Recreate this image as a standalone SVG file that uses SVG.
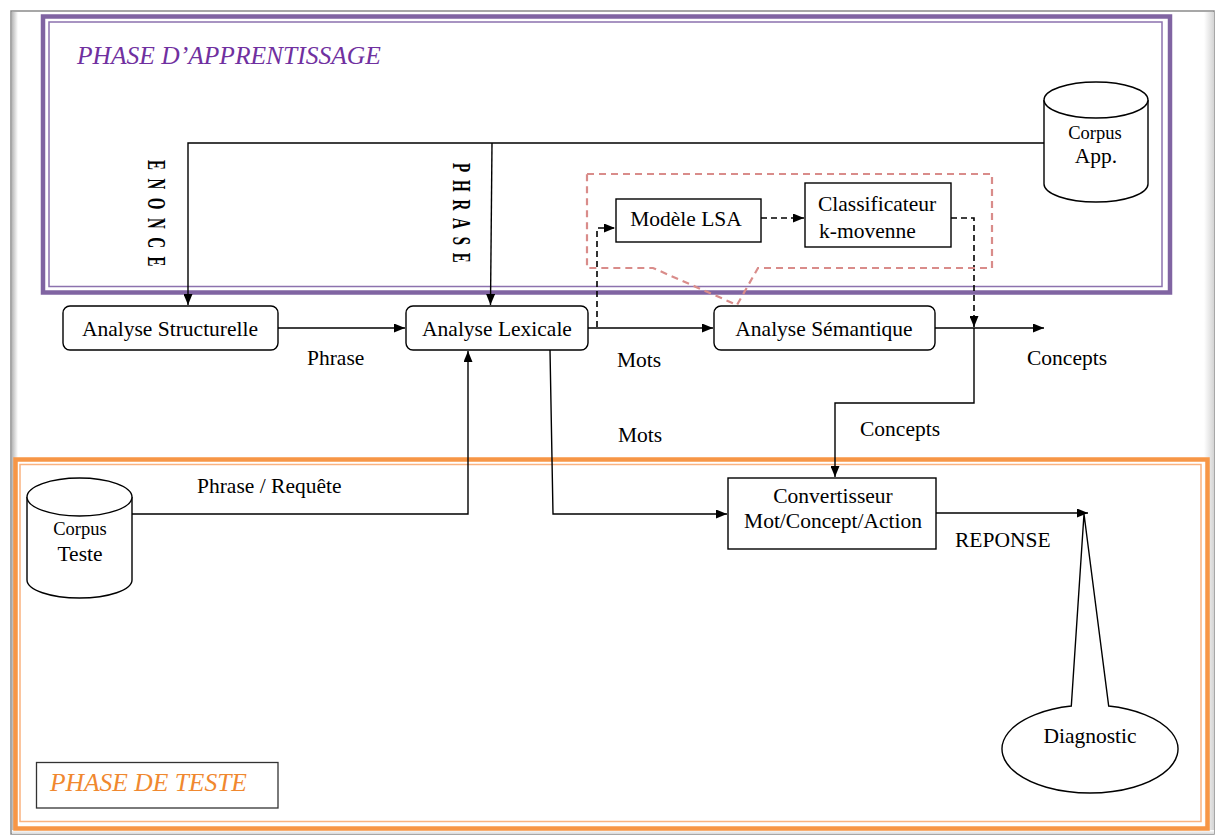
<svg xmlns="http://www.w3.org/2000/svg" width="1217" height="837" viewBox="0 0 1217 837">
  <defs>
    <marker id="arrow" markerUnits="userSpaceOnUse" markerWidth="11" markerHeight="9" refX="11" refY="4.5" orient="auto">
      <path d="M0,0 L11,4.5 L0,9 z" fill="#000"/>
    </marker>
    <linearGradient id="shadeR" x1="0" y1="0" x2="1" y2="0">
      <stop offset="0" stop-color="#ffffff"/>
      <stop offset="1" stop-color="#d4d4d4"/>
    </linearGradient>
    <linearGradient id="shadeL" x1="0" y1="0" x2="1" y2="0">
      <stop offset="0" stop-color="#b8b8b8"/>
      <stop offset="1" stop-color="#ffffff"/>
    </linearGradient>
    <linearGradient id="shadeB" x1="0" y1="0" x2="0" y2="1">
      <stop offset="0" stop-color="#ffffff"/>
      <stop offset="1" stop-color="#d8d8d8"/>
    </linearGradient>
  </defs>
  <style>
    text { font-family: "Liberation Serif", "Times New Roman", serif; fill: #000; }
    .lbl { font-size: 21.5px; }
    .mid { text-anchor: middle; }
    .small { font-size: 18.5px; }
    .vert { font-size: 15px; font-weight: bold; }
    .box { fill: #fff; stroke: #000; stroke-width: 1.4; }
    .line { fill: none; stroke: #000; stroke-width: 1.4; }
    .dash { fill: none; stroke: #000; stroke-width: 1.6; stroke-dasharray: 6 4; }
    .callout { fill: none; stroke: #d98c8a; stroke-width: 2.2; stroke-dasharray: 7 5; }
  </style>

  <!-- page -->
  <rect x="0" y="0" width="1217" height="837" fill="#fff"/>
  <rect x="11" y="11" width="1203" height="823" fill="#fff" stroke="#8a8a8a" stroke-width="1.5"/>
  <rect x="12" y="12" width="6" height="821" fill="url(#shadeL)"/>
  <rect x="1204" y="12" width="10" height="821" fill="url(#shadeR)"/>
  <rect x="12" y="830" width="1202" height="4" fill="url(#shadeB)"/>

  <!-- learning phase frame -->
  <g id="phase-apprentissage">
    <rect x="43" y="16.5" width="1127" height="276" fill="none" stroke="#8064a2" stroke-width="4.5"/>
    <rect x="49" y="22" width="1113" height="264.5" fill="none" stroke="#8c72ae" stroke-width="1.5"/>
    <text x="77" y="64" font-size="25.5" font-style="italic" style="fill:#7030a0">PHASE D’APPRENTISSAGE</text>
  </g>

  <!-- test phase frame -->
  <g id="phase-teste">
    <rect x="15.5" y="459.5" width="1192" height="369" fill="none" stroke="#f79646" stroke-width="4.5"/>
    <rect x="20" y="464.5" width="1181" height="357" fill="none" stroke="#fab27f" stroke-width="1.5"/>
    <rect x="36.5" y="762.5" width="241.5" height="45.5" fill="#fff" stroke="#333" stroke-width="1.3"/>
    <text x="50" y="791" font-size="25.5" font-style="italic" style="fill:#f0882f">PHASE DE TESTE</text>
  </g>

  <!-- connectors -->
  <g id="connectors">
    <!-- corpus App. to Analyse Structurelle (ENONCE) and Analyse Lexicale (PHRASE) -->
    <path class="line" d="M1044,143 H188 V305" marker-end="url(#arrow)"/>
    <path class="line" d="M492,143 L490.5,305" marker-end="url(#arrow)"/>
    <text class="vert" transform="translate(148,160) rotate(90) scale(1,1.75)" letter-spacing="8.5">ENONCE</text>
    <text class="vert" transform="translate(453,163) rotate(90) scale(1,1.75)" letter-spacing="7.8">PHRASE</text>

    <!-- main pipeline -->
    <path class="line" d="M278,328 H405" marker-end="url(#arrow)"/>
    <path class="line" d="M588,328 H713" marker-end="url(#arrow)"/>
    <path class="line" d="M935,328 H1044" marker-end="url(#arrow)"/>

    <!-- LSA branch -->
    <path class="dash" d="M597,327 V228 H615" marker-end="url(#arrow)"/>
    <path class="dash" d="M761,218 H804" marker-end="url(#arrow)"/>
    <path class="dash" d="M951,218 H974 V327" marker-end="url(#arrow)"/>
    <path class="callout" d="M587,174 H992 V268 H758 L737,305 L653,268 H587 Z"/>

    <!-- concepts down to converter -->
    <path class="line" d="M974,328 V403 H835 V477" marker-end="url(#arrow)"/>

    <!-- test corpus up to Analyse Lexicale -->
    <path class="line" d="M132,514 H468 V351" marker-end="url(#arrow)"/>

    <!-- words down to converter -->
    <path class="line" d="M550,350 L553,514 H727" marker-end="url(#arrow)"/>

    <!-- response -->
    <path class="line" d="M936,513 H1088" marker-end="url(#arrow)"/>

    <text class="lbl" x="307" y="365">Phrase</text>
    <text class="lbl" x="617" y="367">Mots</text>
    <text class="lbl" x="618" y="442">Mots</text>
    <text class="lbl" x="1027" y="365">Concepts</text>
    <text class="lbl" x="860" y="436">Concepts</text>
    <text class="lbl" x="197" y="493">Phrase / Requête</text>
    <text class="lbl" x="955" y="547">REPONSE</text>
  </g>

  <!-- nodes -->
  <g id="corpus-app">
    <path class="box" d="M1044,100 V184 A52,18 0 0,0 1148,184 V100"/>
    <ellipse class="box" cx="1096" cy="100" rx="52" ry="18"/>
    <text class="small mid" x="1095" y="139">Corpus</text>
    <text class="lbl mid" x="1096" y="163">App.</text>
  </g>

  <g id="corpus-teste">
    <path class="box" d="M27,497 V580 A52.5,18 0 0,0 132,580 V497"/>
    <ellipse class="box" cx="79.5" cy="497" rx="52.5" ry="19"/>
    <text class="small mid" x="80" y="535">Corpus</text>
    <text class="lbl mid" x="80" y="561">Teste</text>
  </g>

  <g id="analyse-structurelle">
    <rect class="box" x="63" y="306" width="215" height="44" rx="7"/>
    <text class="lbl mid" x="170" y="336">Analyse Structurelle</text>
  </g>

  <g id="analyse-lexicale">
    <rect class="box" x="406" y="306" width="182" height="44" rx="7"/>
    <text class="lbl mid" x="497" y="336">Analyse Lexicale</text>
  </g>

  <g id="analyse-semantique">
    <rect class="box" x="714" y="306" width="221" height="44" rx="7"/>
    <text class="lbl mid" x="824" y="336">Analyse Sémantique</text>
  </g>

  <g id="modele-lsa">
    <rect class="box" x="616" y="199" width="145" height="43"/>
    <text class="lbl mid" x="686" y="226">Modèle LSA</text>
  </g>

  <g id="classificateur">
    <rect class="box" x="805" y="183" width="146" height="64"/>
    <text class="lbl" x="818" y="211">Classificateur</text>
    <text class="lbl" x="819" y="238">k-movenne</text>
  </g>

  <g id="convertisseur">
    <rect class="box" x="728" y="478" width="208" height="71"/>
    <text class="lbl mid" x="833" y="503">Convertisseur</text>
    <text class="lbl mid" x="833" y="528">Mot/Concept/Action</text>
  </g>

  <g id="diagnostic">
    <path class="box" d="M1108.7,706 A88,44 0 1,1 1071.3,706 L1084,514 Z"/>
    <text class="lbl mid" x="1090" y="743">Diagnostic</text>
  </g>
</svg>
